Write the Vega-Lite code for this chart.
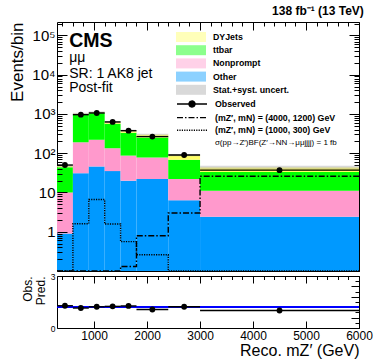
{
  "$schema": "https://vega.github.io/schema/vega-lite/v6.json",
  "padding": {"left": 8, "top": 5, "right": 10, "bottom": 0},
  "config": {
    "font": "Liberation Sans",
    "view": {"stroke": "black", "strokeWidth": 1},
    "axis": {"domain": false, "grid": false, "tickColor": "black", "labelColor": "black", "titleColor": "black", "labelFont": "Liberation Sans", "titleFont": "Liberation Sans", "titleFontWeight": "normal", "labelOverlap": false, "labelFlush": false, "minExtent": 0},
    "axisQuantitative": {"labelOverlap": false},
    "legend": {"labelFont": "Liberation Sans", "padding": 0}
  },
  "title": {"text": "138 fb⁻¹ (13 TeV)", "anchor": "end", "fontSize": 12, "fontWeight": "bold", "font": "Liberation Sans", "offset": 3, "dy": 5, "dx": -9, "color": "black"},
  "spacing": 5,
  "bounds": "flush",
  "datasets": {
    "bkg": [
      {"xlo": 300, "xhi": 600, "process": "Other", "lo": 0.01, "hi": 0.9},
      {"xlo": 300, "xhi": 600, "process": "Nonprompt", "lo": 0.9, "hi": 10},
      {"xlo": 300, "xhi": 600, "process": "ttbar", "lo": 10, "hi": 44},
      {"xlo": 300, "xhi": 600, "process": "DYJets", "lo": 44, "hi": 47},
      {"xlo": 600, "xhi": 900, "process": "Other", "lo": 0.01, "hi": 31},
      {"xlo": 600, "xhi": 900, "process": "Nonprompt", "lo": 31, "hi": 190},
      {"xlo": 600, "xhi": 900, "process": "ttbar", "lo": 190, "hi": 985},
      {"xlo": 600, "xhi": 900, "process": "DYJets", "lo": 985, "hi": 1010},
      {"xlo": 900, "xhi": 1200, "process": "Other", "lo": 0.01, "hi": 46},
      {"xlo": 900, "xhi": 1200, "process": "Nonprompt", "lo": 46, "hi": 220},
      {"xlo": 900, "xhi": 1200, "process": "ttbar", "lo": 220, "hi": 1060},
      {"xlo": 900, "xhi": 1200, "process": "DYJets", "lo": 1060, "hi": 1100},
      {"xlo": 1200, "xhi": 1500, "process": "Other", "lo": 0.01, "hi": 35},
      {"xlo": 1200, "xhi": 1500, "process": "Nonprompt", "lo": 35, "hi": 134},
      {"xlo": 1200, "xhi": 1500, "process": "ttbar", "lo": 134, "hi": 560},
      {"xlo": 1200, "xhi": 1500, "process": "DYJets", "lo": 560, "hi": 615},
      {"xlo": 1500, "xhi": 1800, "process": "Other", "lo": 0.01, "hi": 20},
      {"xlo": 1500, "xhi": 1800, "process": "Nonprompt", "lo": 20, "hi": 87},
      {"xlo": 1500, "xhi": 1800, "process": "ttbar", "lo": 87, "hi": 330},
      {"xlo": 1500, "xhi": 1800, "process": "DYJets", "lo": 330, "hi": 368},
      {"xlo": 1800, "xhi": 2400, "process": "Other", "lo": 0.01, "hi": 22},
      {"xlo": 1800, "xhi": 2400, "process": "Nonprompt", "lo": 22, "hi": 78},
      {"xlo": 1800, "xhi": 2400, "process": "ttbar", "lo": 78, "hi": 250},
      {"xlo": 1800, "xhi": 2400, "process": "DYJets", "lo": 250, "hi": 295},
      {"xlo": 2400, "xhi": 3000, "process": "Other", "lo": 0.01, "hi": 6.3},
      {"xlo": 2400, "xhi": 3000, "process": "Nonprompt", "lo": 6.3, "hi": 22},
      {"xlo": 2400, "xhi": 3000, "process": "ttbar", "lo": 22, "hi": 68},
      {"xlo": 2400, "xhi": 3000, "process": "DYJets", "lo": 68, "hi": 90},
      {"xlo": 3000, "xhi": 6000, "process": "Other", "lo": 0.01, "hi": 2.4},
      {"xlo": 3000, "xhi": 6000, "process": "Nonprompt", "lo": 2.4, "hi": 11},
      {"xlo": 3000, "xhi": 6000, "process": "ttbar", "lo": 11, "hi": 33},
      {"xlo": 3000, "xhi": 6000, "process": "DYJets", "lo": 33, "hi": 43}
    ],
    "unc": [
      {"xlo": 300, "xhi": 600, "band": "Stat.+syst. uncert.", "ulo": 44, "uhi": 50},
      {"xlo": 600, "xhi": 900, "band": "Stat.+syst. uncert.", "ulo": 950, "uhi": 1070},
      {"xlo": 900, "xhi": 1200, "band": "Stat.+syst. uncert.", "ulo": 1035, "uhi": 1165},
      {"xlo": 1200, "xhi": 1500, "band": "Stat.+syst. uncert.", "ulo": 578, "uhi": 652},
      {"xlo": 1500, "xhi": 1800, "band": "Stat.+syst. uncert.", "ulo": 346, "uhi": 390},
      {"xlo": 1800, "xhi": 2400, "band": "Stat.+syst. uncert.", "ulo": 277, "uhi": 313},
      {"xlo": 2400, "xhi": 3000, "band": "Stat.+syst. uncert.", "ulo": 84, "uhi": 96},
      {"xlo": 3000, "xhi": 6000, "band": "Stat.+syst. uncert.", "ulo": 39, "uhi": 48}
    ],
    "obs": [
      {"xlo": 300, "xhi": 600, "xc": 450, "obs": 50, "ratio": 1.07},
      {"xlo": 600, "xhi": 900, "xc": 750, "obs": 960, "ratio": 0.96},
      {"xlo": 900, "xhi": 1200, "xc": 1050, "obs": 1060, "ratio": 1.02},
      {"xlo": 1200, "xhi": 1500, "xc": 1350, "obs": 626, "ratio": 1.04},
      {"xlo": 1500, "xhi": 1800, "xc": 1650, "obs": 376, "ratio": 1.06},
      {"xlo": 1800, "xhi": 2400, "xc": 2100, "obs": 265, "ratio": 0.89},
      {"xlo": 2400, "xhi": 3000, "xc": 2700, "obs": 90, "ratio": 1.02},
      {"xlo": 3000, "xhi": 6000, "xc": 4500, "obs": 37, "ratio": 0.84}
    ],
    "sig": [
      {"model": "(mZ′, mN) = (4000, 1200) GeV", "m": 300, "v": 0.01},
      {"model": "(mZ′, mN) = (4000, 1200) GeV", "m": 600, "v": 0.01},
      {"model": "(mZ′, mN) = (4000, 1200) GeV", "m": 900, "v": 0.01},
      {"model": "(mZ′, mN) = (4000, 1200) GeV", "m": 1200, "v": 0.01},
      {"model": "(mZ′, mN) = (4000, 1200) GeV", "m": 1500, "v": 0.13},
      {"model": "(mZ′, mN) = (4000, 1200) GeV", "m": 1800, "v": 0.79},
      {"model": "(mZ′, mN) = (4000, 1200) GeV", "m": 2400, "v": 3.0},
      {"model": "(mZ′, mN) = (4000, 1200) GeV", "m": 3000, "v": 26},
      {"model": "(mZ′, mN) = (4000, 1200) GeV", "m": 6000, "v": 26},
      {"model": "(mZ′, mN) = (1000, 300) GeV", "m": 300, "v": 0.01},
      {"model": "(mZ′, mN) = (1000, 300) GeV", "m": 600, "v": 1.6},
      {"model": "(mZ′, mN) = (1000, 300) GeV", "m": 900, "v": 6.6},
      {"model": "(mZ′, mN) = (1000, 300) GeV", "m": 1200, "v": 1.57},
      {"model": "(mZ′, mN) = (1000, 300) GeV", "m": 1500, "v": 0.56},
      {"model": "(mZ′, mN) = (1000, 300) GeV", "m": 1800, "v": 0.26},
      {"model": "(mZ′, mN) = (1000, 300) GeV", "m": 2400, "v": 0.01},
      {"model": "(mZ′, mN) = (1000, 300) GeV", "m": 3000, "v": 0.01},
      {"model": "(mZ′, mN) = (1000, 300) GeV", "m": 6000, "v": 0.01}
    ]
  },
  "vconcat": [
    {
      "width": 302,
      "height": 249,
      "layer": [
        {
          "layer": [
            {
              "data": {"name": "bkg"},
              "mark": {"type": "rect", "strokeWidth": 0},
              "encoding": {
                "x": {"field": "xlo", "type": "quantitative", "scale": {"domain": [300, 6000], "nice": false, "zero": false},
                  "axis": {"orient": "bottom", "title": null, "labels": false, "labelOverlap": false, "values": [400,600,800,1000,1200,1400,1600,1800,2000,2200,2400,2600,2800,3000,3200,3400,3600,3800,4000,4200,4400,4600,4800,5000,5200,5400,5600,5800,6000],
                    "tickSize": {"condition": {"test": "datum.value % 1000 === 0", "value": -8}, "value": -4}}},
                "x2": {"field": "xhi"},
                "y": {"field": "lo", "type": "quantitative", "scale": {"type": "log", "domain": [0.1, 220000], "nice": false, "clamp": true},
                  "axis": {"orient": "left", "title": "Events/bin", "titleFontSize": 17, "titleAnchor": "end", "titlePadding": 5, "labelFontSize": 15, "labelPadding": 12, "labelOverlap": false, "zindex": 1,
                    "values": [0.1,0.2,0.3,0.4,0.5,0.6,0.7,0.8,0.9,1,2,3,4,5,6,7,8,9,10,20,30,40,50,60,70,80,90,100,200,300,400,500,600,700,800,900,1000,2000,3000,4000,5000,6000,7000,8000,9000,10000,20000,30000,40000,50000,60000,70000,80000,90000,100000,200000],
                    "labelExpr": "datum.value == 1 ? '1' : datum.value == 10 ? '10' : datum.value == 100 ? '10²' : datum.value == 1000 ? '10³' : datum.value == 10000 ? '10⁴' : datum.value == 100000 ? '10⁵' : ''",
                    "tickSize": {"condition": {"test": "indexof([0.1,1,10,100,1000,10000,100000], datum.value) >= 0", "value": -10}, "value": -5}}},
                "y2": {"field": "hi"},
                "color": {"field": "process", "type": "nominal",
                  "scale": {"domain": ["DYJets", "ttbar", "Nonprompt", "Other", "Stat.+syst. uncert."], "range": ["#ffff66", "#00ff00", "#ff99cc", "#0099ff", "#aaaaaa"]},
                  "legend": {"orient": "none", "legendX": 129, "legendY": 10, "title": null, "direction": "vertical",
                    "symbolType": "M-3,-1H3V1H-3Z", "symbolSize": 100, "symbolStrokeWidth": 0, "labelOffset": 17,
                    "labelFontSize": 8.8, "labelFontWeight": "bold", "rowPadding": 3.2, "symbolOpacity": 1}}
              }
            },
            {
              "data": {"name": "unc"},
              "mark": {"type": "rect", "opacity": 0.45, "strokeWidth": 0},
              "encoding": {
                "x": {"field": "xlo", "type": "quantitative"},
                "x2": {"field": "xhi"},
                "y": {"field": "ulo", "type": "quantitative"},
                "y2": {"field": "uhi"},
                "color": {"field": "band", "type": "nominal"}
              }
            },
            {
              "data": {"name": "sig"},
              "mark": {"type": "line", "interpolate": "step-after", "color": "black", "strokeWidth": 1.4, "clip": true},
              "encoding": {
                "x": {"field": "m", "type": "quantitative"},
                "y": {"field": "v", "type": "quantitative"},
                "strokeDash": {"field": "model", "type": "nominal",
                  "scale": {"domain": ["Observed", "(mZ′, mN) = (4000, 1200) GeV", "(mZ′, mN) = (1000, 300) GeV"], "range": [[1, 0], [6, 2, 1.5, 2], [1.2, 1.2]]},
                  "legend": {"orient": "none", "legendX": 129, "legendY": 76, "title": null, "direction": "vertical",
                    "symbolType": "M-3,0H3", "symbolSize": 100, "symbolStrokeWidth": 1.4, "symbolStrokeColor": "black", "labelOffset": 17,
                    "labelFontSize": 8.8, "labelFontWeight": "bold", "rowPadding": 1.6,
                    "encode": {"symbols": {"update": {
                      "shape": {"signal": "datum.value === 'Observed' ? 'M-3,0H3M-0.6,0A0.6,0.6,0,1,1,0.6,0A0.6,0.6,0,1,1,-0.6,0' : 'M-3,0H3'"},
                      "fill": {"value": "black"}, "stroke": {"value": "black"}, "strokeWidth": {"value": 1.4}, "opacity": {"value": 1}, "strokeOpacity": {"value": 1}}}}}
                }
              }
            },
            {
              "data": {"name": "obs"},
              "mark": {"type": "rule", "color": "black", "strokeWidth": 1.4},
              "encoding": {
                "x": {"field": "xlo", "type": "quantitative"},
                "x2": {"field": "xhi"},
                "y": {"field": "obs", "type": "quantitative"}
              }
            },
            {
              "data": {"name": "obs"},
              "mark": {"type": "point", "filled": true, "color": "black", "size": 34, "opacity": 1},
              "encoding": {
                "x": {"field": "xc", "type": "quantitative"},
                "y": {"field": "obs", "type": "quantitative"}
              }
            },
            {
              "data": {"values": [{}]},
              "mark": {"type": "text", "font": "Liberation Sans", "fontSize": 19.5, "fontWeight": "bold", "align": "left", "baseline": "alphabetic", "color": "black"},
              "encoding": {"x": {"datum": 530, "type": "quantitative"}, "y": {"datum": 50000, "type": "quantitative"}, "text": {"value": "CMS"}}
            },
            {
              "data": {"values": [{}]},
              "mark": {"type": "text", "font": "Liberation Sans", "fontSize": 14, "align": "left", "baseline": "alphabetic", "color": "black"},
              "encoding": {"x": {"datum": 530, "type": "quantitative"}, "y": {"datum": 21000, "type": "quantitative"}, "text": {"value": "μμ"}}
            },
            {
              "data": {"values": [{}]},
              "mark": {"type": "text", "font": "Liberation Sans", "fontSize": 14, "align": "left", "baseline": "alphabetic", "color": "black"},
              "encoding": {"x": {"datum": 530, "type": "quantitative"}, "y": {"datum": 8450, "type": "quantitative"}, "text": {"value": "SR: 1 AK8 jet"}}
            },
            {
              "data": {"values": [{}]},
              "mark": {"type": "text", "font": "Liberation Sans", "fontSize": 14, "align": "left", "baseline": "alphabetic", "color": "black"},
              "encoding": {"x": {"datum": 530, "type": "quantitative"}, "y": {"datum": 3600, "type": "quantitative"}, "text": {"value": "Post-fit"}}
            },
            {
              "data": {"values": [{}]},
              "mark": {"type": "text", "font": "Liberation Sans", "fontSize": 8, "align": "left", "baseline": "middle", "color": "black"},
              "encoding": {"x": {"datum": 3280, "type": "quantitative"}, "y": {"datum": 181, "type": "quantitative"}, "text": {"value": "σ(pp→Z′)BF(Z′→NN→μμjjjj) = 1 fb"}}
            }
          ]
        },
        {
          "data": {"name": "obs"},
          "mark": {"type": "point", "opacity": 0},
          "encoding": {
            "x": {"field": "xc", "type": "quantitative", "scale": {"domain": [300, 6000], "nice": false, "zero": false},
              "axis": {"orient": "top", "title": null, "labels": false, "values": [400,600,800,1000,1200,1400,1600,1800,2000,2200,2400,2600,2800,3000,3200,3400,3600,3800,4000,4200,4400,4600,4800,5000,5200,5400,5600,5800,6000],
                "tickSize": {"condition": {"test": "datum.value % 1000 === 0", "value": -8}, "value": -4}}},
            "y": {"field": "obs", "type": "quantitative", "scale": {"type": "log", "domain": [0.1, 220000], "nice": false, "clamp": true},
              "axis": {"orient": "right", "title": null, "labels": false,
                "values": [0.1,0.2,0.3,0.4,0.5,0.6,0.7,0.8,0.9,1,2,3,4,5,6,7,8,9,10,20,30,40,50,60,70,80,90,100,200,300,400,500,600,700,800,900,1000,2000,3000,4000,5000,6000,7000,8000,9000,10000,20000,30000,40000,50000,60000,70000,80000,90000,100000,200000],
                "tickSize": {"condition": {"test": "indexof([0.1,1,10,100,1000,10000,100000], datum.value) >= 0", "value": -10}, "value": -5}}}
          }
        }
      ],
      "resolve": {"axis": {"x": "independent", "y": "independent"}}
    },
    {
      "width": 302,
      "height": 52,
      "layer": [
        {
          "layer": [
            {
              "data": {"name": "obs"},
              "mark": {"type": "rule", "color": "#0000ff", "strokeWidth": 1.2},
              "encoding": {"y": {"datum": 1, "type": "quantitative"}}
            },
            {
              "data": {"name": "obs"},
              "mark": {"type": "rule", "color": "black", "strokeWidth": 1.4},
              "encoding": {
                "x": {"field": "xlo", "type": "quantitative", "scale": {"domain": [300, 6000], "nice": false, "zero": false},
                  "axis": {"orient": "bottom", "title": "Reco. mZ′ (GeV)", "titleAnchor": "end", "titleFontSize": 16, "titlePadding": 1, "labelFontSize": 12, "labelPadding": 9, "labelOverlap": false,
                    "values": [1000, 2000, 3000, 4000, 5000, 6000], "format": "d", "tickSize": -7}},
                "x2": {"field": "xhi"},
                "y": {"field": "ratio", "type": "quantitative", "scale": {"domain": [0, 2.5], "nice": false, "zero": false},
                  "axis": {"orient": "left", "title": ["Obs.", "Pred."], "titleFontSize": 12, "titleAnchor": "end", "titlePadding": 3, "titleLineHeight": 13, "labelFontSize": 8.5, "labelPadding": 9, "labelOverlap": false, "labelSeparation": 0,
                    "values": [0, 0.5, 1, 1.5, 2, 2.5], "format": "~g", "tickSize": -7}},
                "y2": {"field": "ratio"}
              }
            },
            {
              "data": {"name": "obs"},
              "mark": {"type": "point", "filled": true, "color": "black", "size": 34, "opacity": 1},
              "encoding": {
                "x": {"field": "xc", "type": "quantitative"},
                "y": {"field": "ratio", "type": "quantitative"}
              }
            }
          ]
        },
        {
          "data": {"name": "obs"},
          "mark": {"type": "point", "opacity": 0},
          "encoding": {
            "x": {"field": "xc", "type": "quantitative", "scale": {"domain": [300, 6000], "nice": false, "zero": false},
              "axis": {"orient": "top", "title": null, "labels": false, "values": [400,600,800,1000,1200,1400,1600,1800,2000,2200,2400,2600,2800,3000,3200,3400,3600,3800,4000,4200,4400,4600,4800,5000,5200,5400,5600,5800,6000],
                "tickSize": {"condition": {"test": "datum.value % 1000 === 0", "value": -7}, "value": -3.5}}},
            "y": {"field": "ratio", "type": "quantitative", "scale": {"domain": [0, 2.5], "nice": false, "zero": false},
              "axis": {"orient": "right", "title": null, "labels": false, "values": [0, 0.25, 0.5, 0.75, 1, 1.25, 1.5, 1.75, 2, 2.25, 2.5],
                "tickSize": {"condition": {"test": "(datum.value * 2) % 1 === 0", "value": -8}, "value": -4}}}
          }
        }
      ],
      "resolve": {"axis": {"x": "independent", "y": "independent"}}
    }
  ]
}
